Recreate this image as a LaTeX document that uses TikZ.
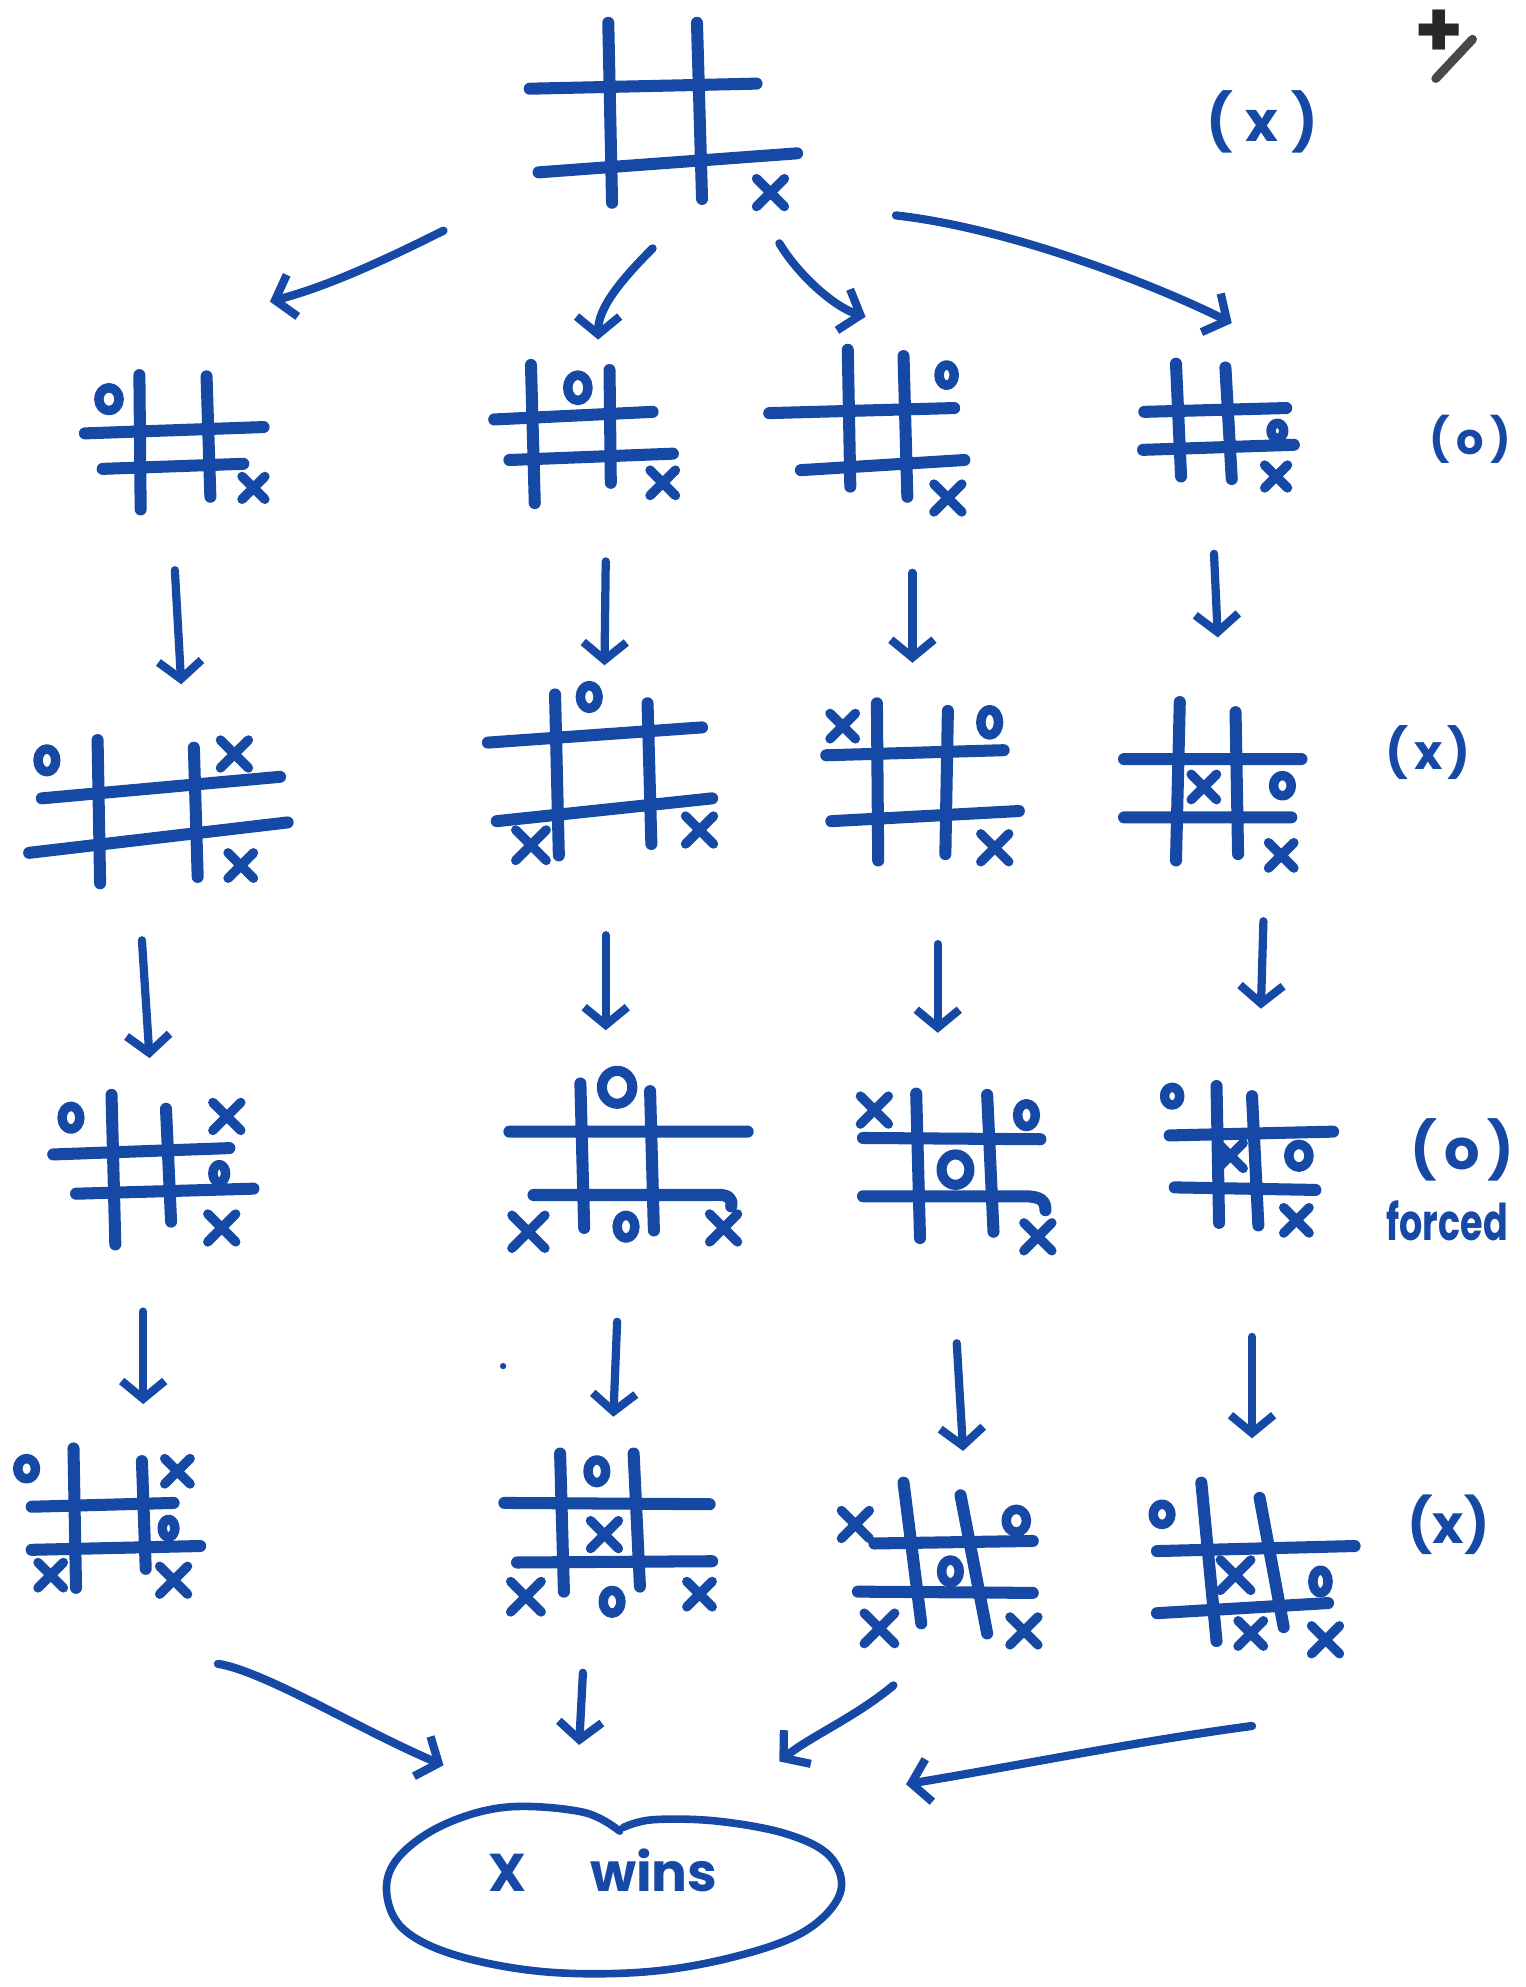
\documentclass[tikz,border=0pt]{standalone}
\usepackage{fontspec}
\setmainfont{Poppins}
\usetikzlibrary{arrows.meta,shapes.geometric}
\definecolor{ink}{RGB}{22,72,165}
\definecolor{pencil}{RGB}{40,40,40}
\newcommand\xm[3]{\draw[markl] (#1-#3,#2-#3) -- (#1+#3,#2+#3) (#1-#3,#2+#3) -- (#1+#3,#2-#3);}
\newcommand\om[4]{\draw[markl] (#1,#2) ellipse [x radius=#3, y radius=#4];}
\begin{document}
\begin{tikzpicture}[x=1pt,y=-1pt,line cap=round,line join=round,
  gridl/.style={draw=ink,line width=9.5pt},
  markl/.style={draw=ink,line width=7.5pt},
  arr/.style={draw=ink,line width=6.5pt,-{Straight Barb[length=14pt,width=34pt]}},
  lbl/.style={text=ink,inner sep=0pt}]
\useasboundingbox (0,0) rectangle (1204,1568);

% ---------- top board
\coordinate (b0) at (520,90);
\draw[gridl] (480,18)--(483,160) (550,18)--(554,157) (418,70)--(597,66) (425,136)--(629,121);
\xm{608}{152}{11}

% ---------- row 1
\coordinate (b1a) at (137,350);
\draw[gridl] (110,296)--(111,402) (163,297)--(166,392) (67,342)--(208,337) (81,370)--(192,366);
\om{86}{315}{8}{9}
\xm{200}{385}{9}

\coordinate (b1b) at (455,340);
\draw[gridl] (419,288)--(422,397) (481,292)--(482,381) (390,331)--(515,325) (402,363)--(531,358);
\om{456}{306}{8}{10}
\xm{523}{381}{10}

\coordinate (b1c) at (690,335);
\draw[gridl] (669,276)--(671,384) (713,281)--(716,392) (607,326)--(753,322) (632,371)--(761,363);
\om{747}{296}{6}{8}
\xm{748}{393}{11}

\coordinate (b1d) at (960,332);
\draw[gridl] (928,287)--(932,376) (967,290)--(972,378) (903,325)--(1015,322) (902,355)--(1021,351);
\om{1008}{340}{5}{6}
\xm{1007}{376}{9}

% ---------- row 2
\coordinate (b2a) at (115,640);
\draw[gridl] (77,584)--(79,697) (153,590)--(156,692) (33,630)--(221,613) (23,673)--(227,649);
\om{37}{600}{7}{9}
\xm{185}{595}{11}
\xm{190}{683}{10}

\coordinate (b2b) at (475,610);
\draw[gridl] (438,548)--(441,675) (511,555)--(514,666) (385,586)--(554,574) (392,648)--(562,630);
\om{465}{550}{7}{9}
\xm{419}{667}{12}
\xm{552}{655}{11}

\coordinate (b2c) at (720,620);
\draw[gridl] (692,555)--(693,679) (748,561)--(746,674) (652,596)--(792,592) (656,648)--(804,640);
\xm{665}{573}{10}
\om{781}{570}{7}{10}
\xm{785}{669}{11}

\coordinate (b2d) at (955,620);
\draw[gridl] (931,554)--(928,679) (975,562)--(977,674) (887,599)--(1027,599) (887,645)--(1019,645);
\xm{950}{621}{10}
\om{1012}{620}{7}{8}
\xm{1011}{675}{10}

% ---------- row 3
\coordinate (b3a) at (115,920);
\draw[gridl] (88,864)--(91,982) (131,875)--(135,964) (42,911)--(181,906) (60,942)--(200,938);
\om{56}{882}{7}{9}
\xm{179}{881}{11}
\om{173}{926}{5}{7}
\xm{175}{969}{11}

\coordinate (b3b) at (495,915);
\draw[gridl] (458,855)--(461,969) (513,861)--(516,971) (402,893)--(590,893)
  (421,943)--(562,943) .. controls (576,942) and (578,946) .. (577,952);
\draw[markl,line width=8pt] (487,858) ellipse [x radius=12, y radius=13];
\xm{417}{972}{13}
\om{494}{968}{7}{9}
\xm{571}{969}{11}

\coordinate (b3c) at (752,920);
\draw[gridl] (723,863)--(726,977) (779,864)--(784,972) (681,898)--(821,899)
  (681,944)--(808,944) .. controls (822,944) and (825,948) .. (825,955);
\xm{690}{876}{11}
\om{810}{880}{7}{9}
\draw[markl,line width=8pt] (754,923) ellipse [x radius=11, y radius=12];
\xm{819}{976}{11}

\coordinate (b3d) at (985,915);
\draw[gridl] (960,857)--(962,965) (988,865)--(993,967) (923,896)--(1052,893) (927,937)--(1038,939);
\om{925}{865}{6}{7}
\xm{971}{912}{10}
\om{1025}{912}{8}{9}
\xm{1023}{963}{10}

% ---------- row 4
\coordinate (b4a) at (85,1205);
\draw[gridl] (58,1143)--(60,1253) (112,1153)--(115,1238) (25,1189)--(137,1186) (25,1223)--(158,1220);
\om{21}{1159}{7}{8}
\xm{140}{1161}{10}
\om{133}{1206}{5}{7}
\xm{40}{1243}{10}
\xm{137}{1247}{11}

\coordinate (b4b) at (480,1210);
\draw[gridl] (442,1147)--(445,1256) (500,1147)--(505,1252) (398,1186)--(560,1187) (408,1233)--(562,1232);
\om{471}{1161}{7}{9}
\xm{477}{1211}{11}
\xm{415}{1260}{12}
\om{483}{1264}{7}{9}
\xm{552}{1258}{10}

\coordinate (b4c) at (748,1235);
\draw[gridl] (713,1170)--(727,1281) (758,1180)--(779,1289) (690,1218)--(815,1216) (677,1256)--(815,1257);
\xm{675}{1203}{11}
\om{802}{1200}{8}{9}
\om{750}{1240}{7}{9}
\xm{694}{1285}{12}
\xm{808}{1287}{11}

\coordinate (b4d) at (990,1240);
\draw[gridl] (948,1170)--(960,1295) (994,1182)--(1013,1284) (913,1224)--(1069,1220) (913,1273)--(1048,1265);
\om{917}{1195}{7}{8}
\xm{975}{1243}{12}
\om{1042}{1248}{6}{9}
\xm{987}{1289}{10}
\xm{1046}{1294}{11}

% ---------- result
\node[text=ink,inner sep=0pt,anchor=base,font=\fontsize{42}{42}\selectfont\bfseries] (win) at (476,1493) {X\hspace{50pt}wins};
\draw[ink,line width=6pt] plot[smooth,tension=0.6] coordinates {(489,1445) (460,1430) (400,1426) (350,1440) (315,1465) (305,1492) (318,1522) (360,1543) (430,1556) (510,1556) (580,1544) (635,1524) (663,1494) (655,1465) (620,1447) (565,1437) (515,1436) (492,1442)};

% ---------- labels
\node[lbl,font=\fontsize{44}{44}\selectfont\bfseries] (lx1) at (996,96) {(\hspace{10pt}x\hspace{10pt})};
\node[lbl,font=\fontsize{34}{34}\selectfont\bfseries] (lo1) at (1160,347) {(\hspace{5pt}o\hspace{5pt})};
\node[lbl,font=\fontsize{38}{38}\selectfont\bfseries] (lx2) at (1127,594) {(\hspace{4pt}x\hspace{4pt})};
\node[lbl,font=\fontsize{44}{44}\selectfont\bfseries] (lo3) at (1154,907) {(\hspace{6pt}o\hspace{6pt})};
\node[lbl,font=\fontsize{40}{40}\selectfont\bfseries] (lf3) at (1142,963) {\scalebox{0.72}[1]{forced}};
\node[lbl,font=\fontsize{42}{42}\selectfont\bfseries] (lx4) at (1143,1203) {(x)};
\node[text=pencil,inner sep=0pt,font=\fontsize{62}{62}\selectfont\bfseries] (plus) at (1136,27) {+};
\draw[draw=pencil!85!white,line width=7pt] (1133,62)--(1162,31);
\fill[ink] (397,1078) circle (2.5);

% ---------- arrows
\draw[arr] ([shift={(-170,92)}]b0) .. controls +(-50,25) and +(45,-12) .. ([shift={(76,-112)}]b1a);
\draw[arr] ([shift={(-5,106)}]b0) .. controls +(-25,25) and +(0,-25) .. ([shift={(17,-72)}]b1b);
\draw[arr] ([shift={(95,102)}]b0) .. controls +(15,25) and +(-25,-8) .. ([shift={(-7,-85)}]b1c);
\draw[arr] ([shift={(187,80)}]b0) .. controls +(90,10) and +(-60,-30) .. ([shift={(12,-77)}]b1d);

\draw[arr] ([shift={(1,100)}]b1a) -- ([shift={(28,-100)}]b2a);
\draw[arr] ([shift={(23,103)}]b1b) -- ([shift={(2,-85)}]b2b);
\draw[arr] ([shift={(30,117)}]b1c) -- ([shift={(0,-97)}]b2c);
\draw[arr] ([shift={(-2,105)}]b1d) -- ([shift={(6,-117)}]b2d);

\draw[arr] ([shift={(-3,102)}]b2a) -- ([shift={(3,-85)}]b3a);
\draw[arr] ([shift={(3,128)}]b2b) -- ([shift={(-17,-102)}]b3b);
\draw[arr] ([shift={(20,125)}]b2c) -- ([shift={(-12,-105)}]b3c);
\draw[arr] ([shift={(42,107)}]b2d) -- ([shift={(10,-119)}]b3d);

\draw[arr] ([shift={(-2,115)}]b3a) -- ([shift={(28,-97)}]b4a);
\draw[arr] ([shift={(-8,128)}]b3b) -- ([shift={(4,-92)}]b4b);
\draw[arr] ([shift={(3,140)}]b3c) -- ([shift={(12,-90)}]b4c);
\draw[arr] ([shift={(3,140)}]b3d) -- ([shift={(-2,-105)}]b4d);

\draw[arr] ([shift={(87,108)}]b4a) .. controls +(35,5) and +(-60,-25) .. ([shift={(-126,-100)}]win.base);
\draw[arr] ([shift={(-20,110)}]b4b) -- ([shift={(-19,-116)}]win.base);
\draw[arr] ([shift={(-43,95)}]b4c) .. controls +(-30,25) and +(25,-20) .. ([shift={(139,-103)}]win.base);
\draw[arr] ([shift={(-2,122)}]b4d) .. controls +(-90,12) and +(90,-15) .. ([shift={(239,-85)}]win.base);
\end{tikzpicture}
\end{document}
